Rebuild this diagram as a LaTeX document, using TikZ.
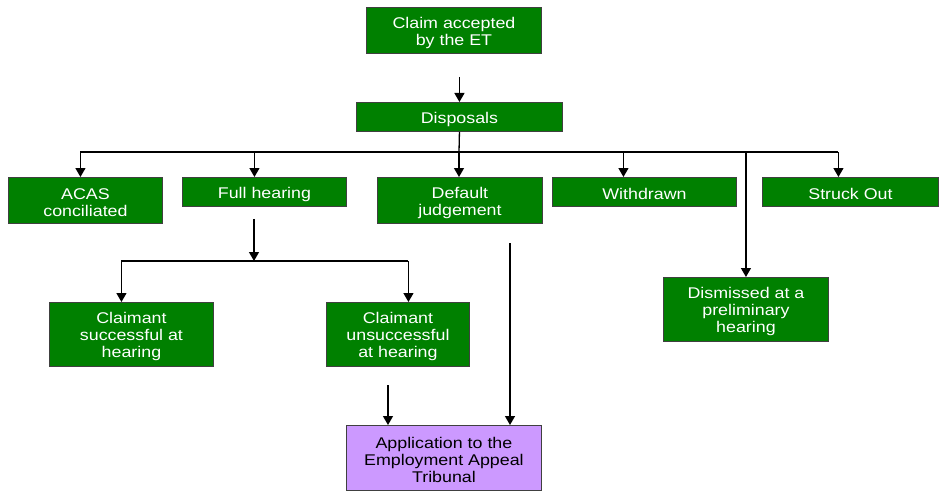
\documentclass[tikz,border=0pt]{standalone}
\usepackage{fontspec}
\setmainfont{Liberation Sans}[FakeStretch=1.15]
\usetikzlibrary{arrows.meta}
\definecolor{boxgreen}{RGB}{0,128,0}
\definecolor{boxpurple}{RGB}{204,153,255}
\newcommand\liftup{\rule{0pt}{16pt}}
\begin{document}
\begin{tikzpicture}[x=1pt,y=-1pt,
  box/.style={rectangle, draw=black!75, line width=0.9pt, fill=boxgreen,
    text=white, font=\fontsize{15.5}{17}\selectfont, align=center,
    inner sep=0pt, anchor=north west},
  pbox/.style={box, fill=boxpurple, text=black},
  conn/.style={line width=1.3pt, black},
  arr/.style={conn, -{Triangle[width=10pt,length=9pt]}}]
\useasboundingbox (0,0) rectangle (939,492);

\node[box, minimum width=175, minimum height=46] (claim) at (366,7) {\liftup Claim accepted\\by the ET};
\node[box, minimum width=206, minimum height=29] (disp) at (356,102) {\liftup Disposals};
\node[box, minimum width=154, minimum height=46] (acas) at (8,177) {\liftup ACAS\\conciliated};
\node[box, minimum width=164, minimum height=29] (full) at (182,177) {\liftup Full hearing};
\node[box, minimum width=165, minimum height=46] (default) at (377,177) {\liftup Default\\judgement};
\node[box, minimum width=184, minimum height=29] (withdrawn) at (552,177) {\liftup Withdrawn};
\node[box, minimum width=176, minimum height=29] (struck) at (762,177) {\liftup Struck Out};
\node[box, minimum width=165, minimum height=64] (dismissed) at (663,277) {\liftup Dismissed at a\\preliminary\\hearing};
\node[box, minimum width=164, minimum height=64] (succ) at (49,302) {\liftup Claimant\\successful at\\hearing};
\node[box, minimum width=143, minimum height=64] (unsucc) at (326,302) {\liftup Claimant\\unsuccessful\\at hearing};
\node[pbox, minimum width=195, minimum height=65] (eat) at (346,425) {\liftup Application to the\\Employment Appeal\\Tribunal};

\coordinate (bar) at (459,152);
\coordinate (bar2) at (254,261);
\coordinate (ua) at (388,385);
\coordinate (da) at (510,243);

% claim -> disposals
\draw[arr] (disp.north) ++(0,-25) -- (disp.north);
% disposals -> branches
\draw[conn] (disp.south) -- (bar);
\draw[conn] ([xshift=-5pt]acas.north |- bar) -- ([xshift=-12pt]struck.north |- bar);
\draw[arr] ([xshift=-5pt]acas.north |- bar) -- ([xshift=-5pt]acas.north);
\draw[arr] ([xshift=-10pt]full.north |- bar) -- ([xshift=-10pt]full.north);
\draw[arr] (bar) -- (bar |- default.north);
\draw[arr] ([xshift=-21pt]withdrawn.north |- bar) -- ([xshift=-21pt]withdrawn.north);
\draw[arr] ([xshift=-12pt]struck.north |- bar) -- ([xshift=-12pt]struck.north);
\draw[arr] (dismissed.north |- bar) -- (dismissed.north);
% full hearing -> claimant outcomes
\draw[arr] ([yshift=-12pt]full.south -| bar2) -- (bar2);
\draw[conn] ([xshift=-10pt]succ.north |- bar2) -- ([xshift=10.5pt]unsucc.north |- bar2);
\draw[arr] ([xshift=-10pt]succ.north |- bar2) -- ([xshift=-10pt]succ.north);
\draw[arr] ([xshift=10.5pt]unsucc.north |- bar2) -- ([xshift=10.5pt]unsucc.north);
% to EAT
\draw[arr] (ua) -- (ua |- eat.north);
\draw[arr] (da) -- (da |- eat.north);
\end{tikzpicture}
\end{document}
